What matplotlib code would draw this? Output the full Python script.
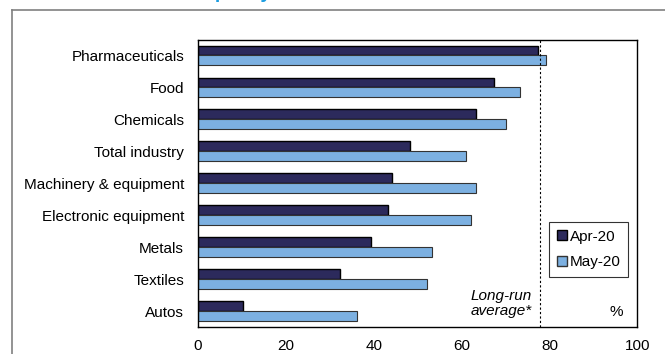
import matplotlib.pyplot as plt
import numpy as np
from matplotlib.lines import Line2D
from matplotlib.patches import Patch

plt.rcParams['font.family'] = ['Liberation Sans', 'DejaVu Sans']

# data
sectors = ['Pharmaceuticals', 'Food', 'Chemicals', 'Total industry',
           'Machinery & equipment', 'Electronic equipment', 'Metals',
           'Textiles', 'Autos']
apr20 = [77.3, 67.3, 63.2, 48.3, 44.2, 43.2, 39.3, 32.3, 10.2]
may20 = [79.1, 73.2, 70.2, 61.0, 63.2, 62.1, 53.2, 52.2, 36.1]
long_run_avg = 77.8
xticks = [0, 20, 40, 60, 80, 100]

dark = '#2c2a5c'
light = '#7cb0e1'
fs = 11

fig = plt.figure(figsize=(6.65, 3.54), dpi=100)
ax = fig.add_axes([0.2977, 0.0763, 0.6609, 0.8121])

y = np.arange(len(sectors))
h = 0.31
ax.barh(y - h / 2, apr20, height=h, color=dark, edgecolor='black', linewidth=1.0, label='Apr-20')
ax.barh(y + h / 2, may20, height=h, color=light, edgecolor='#333333', linewidth=0.8, label='May-20')

ax.set_ylim(len(sectors) - 0.5, -0.5)
ax.set_xlim(0, 100)
ax.set_yticks(y)
ax.set_yticklabels(sectors, fontsize=fs)
ax.set_xticks(xticks)
ax.set_xticklabels([str(t) for t in xticks], fontsize=fs)
ax.tick_params(length=0)
ax.tick_params(axis='x', pad=9)
ax.tick_params(axis='y', pad=10)
for s in ax.spines.values():
    s.set_linewidth(1.0)
    s.set_color('black')

ax.axvline(long_run_avg, color='black', linestyle=(0, (2, 2)), linewidth=0.8)
ax.text(75.9, 8.22, 'Long-run\naverage*', ha='right', va='bottom',
        fontsize=fs, style='italic', linespacing=1.05)
ax.text(95.1, 8.03, '%', ha='center', va='center', fontsize=fs)

handles = [Patch(facecolor=dark, edgecolor='black'),
           Patch(facecolor=light, edgecolor='#333333')]
leg = ax.legend(handles, ['Apr-20', 'May-20'], loc='upper left',
                bbox_to_anchor=(0.7986, 0.365), fontsize=fs, frameon=True,
                fancybox=False, edgecolor='black', handlelength=0.65,
                handleheight=0.65, handletextpad=0.2, borderpad=0.5,
                labelspacing=0.75, borderaxespad=0)
leg.get_frame().set_linewidth(0.8)

# outer frame of the original figure box
fig.add_artist(Line2D([12 / 665, 1.0], [1 - 10 / 354, 1 - 10 / 354],
                      transform=fig.transFigure, color='#808080', linewidth=1.2))
fig.add_artist(Line2D([12 / 665, 12 / 665], [0, 1 - 10 / 354],
                      transform=fig.transFigure, color='#808080', linewidth=1.2))

# title is cut off by the top edge, only descenders show
fig.text(190 / 665, 1 + 2 / 354, 'Capacity utilisation', ha='left', va='baseline',
         fontsize=14, fontweight='bold', color='#1a9ce0')

fig.savefig('out.png', dpi=100)
